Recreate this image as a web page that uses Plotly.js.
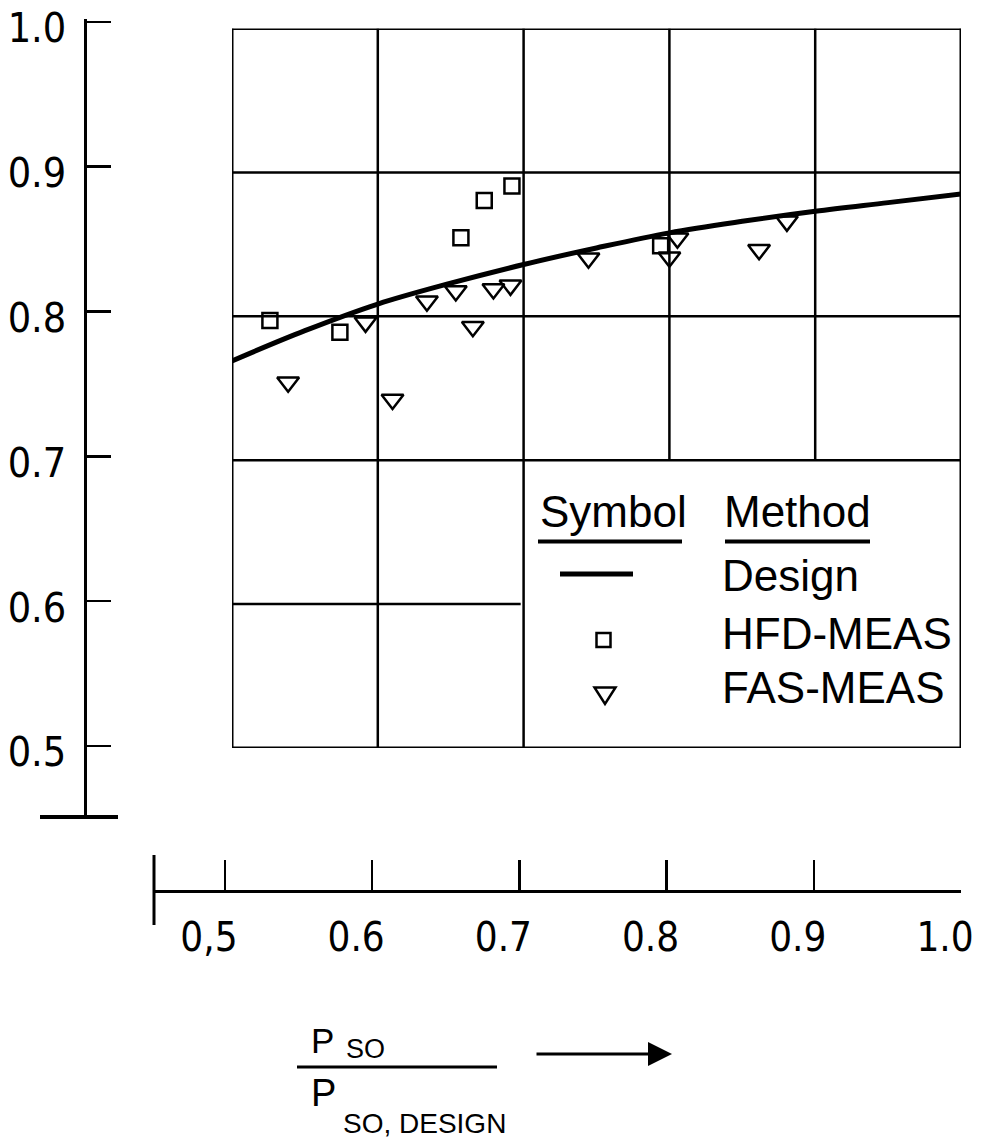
<!DOCTYPE html>
<html>
<head>
<meta charset="utf-8">
<script src="https://cdn.plot.ly/plotly-3.0.1.min.js"></script>
<style>html,body{margin:0;padding:0;background:#fff;}#chart{width:997px;height:1139px;}</style>
</head>
<body>
<div id="chart"></div>
<script>
// ---- data ----
var designX = [0.50, 0.55, 0.60, 0.65, 0.70, 0.75, 0.80, 0.85, 0.90, 0.95, 1.00];
var designY = [0.769, 0.790, 0.8085, 0.823, 0.836, 0.8475, 0.858, 0.866, 0.873, 0.879, 0.885];

var hfdX = [0.526, 0.574, 0.657, 0.673, 0.692, 0.794];
var hfdY = [0.797, 0.789, 0.8545, 0.8805, 0.8905, 0.849];

var fasX = [0.5385, 0.5916, 0.6101, 0.6337, 0.6535, 0.6652, 0.6793, 0.691, 0.7445, 0.800, 0.8055, 0.8615, 0.8806];
var fasY = [0.7542, 0.7958, 0.7422, 0.8105, 0.8176, 0.7928, 0.819, 0.8215, 0.8404, 0.841, 0.8542, 0.8462, 0.866];

var xTickVals = [0.5, 0.6, 0.7, 0.8, 0.9, 1.0];
var xTickText = ['0,5', '0.6', '0.7', '0.8', '0.9', '1.0'];
var yTickVals = [0.5, 0.6, 0.7, 0.8, 0.9, 1.0];
var yTickText = ['0.5', '0.6', '0.7', '0.8', '0.9', '1.0'];

var seriesNames = ['Design', 'HFD-MEAS', 'FAS-MEAS'];
var legendHeaders = ['Symbol', 'Method'];
var xTitleNum = ['P', 'SO'];
var xTitleDen = ['P', 'SO, DESIGN'];

// ---- layout helpers ----
var W = 997, H = 1139;
function fx(px) { return px / W; }
function fy(py) { return 1 - py / H; }

var TICKFONT = '"DejaVu Sans Condensed", "Liberation Sans", sans-serif';
var ISO = '"Liberation Sans", Arial, sans-serif';
var BLACK = '#000';

var traces = [
  { type: 'scatter', mode: 'lines', name: seriesNames[0], x: designX, y: designY,
    line: { color: BLACK, width: 5, shape: 'spline', smoothing: 1 }, hoverinfo: 'x+y', showlegend: false },
  { type: 'scatter', mode: 'markers', name: seriesNames[1], x: hfdX, y: hfdY,
    marker: { symbol: 'square-open', size: 15, color: BLACK, line: { width: 2.5, color: BLACK } }, showlegend: false },
  { type: 'scatter', mode: 'markers', name: seriesNames[2], x: fasX, y: fasY,
    marker: { symbol: 'triangle-down-open', size: 19, color: BLACK, line: { width: 2.5, color: BLACK } }, showlegend: false },
  // empty trace to host the separately drawn axes
  { type: 'scatter', mode: 'markers', x: [], y: [], xaxis: 'x2', yaxis: 'y2', showlegend: false, hoverinfo: 'skip' }
];

// grid shapes (data coordinates)
var shapes = [];
function dline(x0, y0, x1, y1, w) {
  shapes.push({ type: 'line', xref: 'x', yref: 'y', x0: x0, y0: y0, x1: x1, y1: y1, layer: 'below',
    line: { color: BLACK, width: w } });
}
xTickVals.forEach(function (v) {
  var w = (v === 0.5 || v === 1.0) ? 3 : 2.5;
  var bottom = (v === 0.8 || v === 0.9) ? 0.7 : 0.5;
  dline(v, bottom, v, 1.0, w);
});
yTickVals.forEach(function (v) {
  var w = (v === 0.5 || v === 1.0) ? 3 : 2.5;
  var right = (v === 0.6) ? 0.698 : 1.0;
  dline(0.5, v, right, v, w);
});

function pline(x0, y0, x1, y1, w) {
  shapes.push({ type: 'line', xref: 'paper', yref: 'paper', x0: fx(x0), y0: fy(y0), x1: fx(x1), y1: fy(y1),
    line: { color: BLACK, width: w } });
}
// foot of the left axis
pline(40, 817, 118, 817, 4);
// left end bar of the bottom axis
pline(154, 855, 154, 925, 3);
// legend underlines and key line
pline(538, 541.5, 682, 541.5, 4);
pline(725, 541.5, 870, 541.5, 4);
pline(560, 574, 633, 574, 5);
// legend key square
shapes.push({ type: 'rect', xref: 'paper', yref: 'paper', x0: fx(596.5), x1: fx(610.5), y0: fy(647), y1: fy(633),
  line: { color: BLACK, width: 2.5 } });
// legend key triangle
shapes.push({ type: 'path', xref: 'paper', yref: 'paper',
  path: 'M ' + fx(594.5) + ' ' + fy(687.5) + ' L ' + fx(615.5) + ' ' + fy(687.5) + ' L ' + fx(605) + ' ' + fy(704) + ' Z',
  line: { color: BLACK, width: 2.5 } });
// fraction bar
pline(297, 1067, 497, 1067, 3);

function ann(text, px, py, size, anchor, fam) {
  return { text: text, xref: 'paper', yref: 'paper', x: fx(px), y: fy(py), xanchor: anchor || 'left', yanchor: 'middle',
    showarrow: false, font: { family: fam || ISO, size: size, color: BLACK }, borderpad: 0 };
}
var annotations = [
  ann(legendHeaders[0], 539, 511.5, 44),
  ann(legendHeaders[1], 723, 511.5, 44),
  ann(seriesNames[0], 721, 575, 44),
  ann(seriesNames[1], 721, 634, 44),
  ann(seriesNames[2], 721, 687.5, 44),
  ann(xTitleNum[0], 310, 1040.5, 35),
  ann(xTitleNum[1], 345, 1049, 27),
  ann(xTitleDen[0], 310, 1092.5, 38),
  ann(xTitleDen[1], 342, 1123, 28),
  { text: '', xref: 'paper', yref: 'paper', x: fx(672), y: fy(1054), ax: -137, ay: 0, showarrow: true,
    arrowhead: 2, arrowsize: 1.6, arrowwidth: 3, arrowcolor: BLACK }
];

var layout = {
  width: W, height: H, autosize: false,
  margin: { l: 0, r: 0, t: 0, b: 0, pad: 0 },
  paper_bgcolor: '#fff', plot_bgcolor: 'rgba(0,0,0,0)',
  showlegend: false,
  xaxis: { domain: [fx(232), fx(961)], range: [0.5, 1.0], showgrid: false, zeroline: false, showline: false,
    showticklabels: false, ticks: '', fixedrange: true },
  yaxis: { domain: [fy(748), fy(28.5)], range: [0.5, 1.0], showgrid: false, zeroline: false, showline: false,
    showticklabels: false, ticks: '', fixedrange: true },
  // separately drawn bottom axis
  xaxis2: { domain: [fx(154), fx(961)], range: [0.4518, 1.0], anchor: 'free', position: fy(891), side: 'bottom',
    showgrid: false, zeroline: false, showline: true, linecolor: BLACK, linewidth: 3,
    ticks: 'inside', ticklen: 30, tickwidth: 2.5, tickcolor: BLACK,
    tickmode: 'array', tickvals: xTickVals, ticktext: xTickText,
    ticklabelstandoff: 10, ticklabelshift: -16, ticklabeloverflow: 'allow',
    tickfont: { family: TICKFONT, size: 40, color: BLACK }, fixedrange: true },
  // separately drawn left axis
  yaxis2: { domain: [fy(817), fy(19)], range: [0.451, 1.002], anchor: 'free', position: fx(84.5), side: 'left',
    showgrid: false, zeroline: false, showline: true, linecolor: BLACK, linewidth: 3,
    ticks: 'inside', ticklen: 24, tickwidth: 2.5, tickcolor: BLACK,
    tickmode: 'array', tickvals: yTickVals, ticktext: yTickText,
    ticklabelstandoff: 9, ticklabelshift: 6, ticklabeloverflow: 'allow',
    tickfont: { family: TICKFONT, size: 41, color: BLACK }, fixedrange: true },
  shapes: shapes,
  annotations: annotations
};

Plotly.newPlot('chart', traces, layout, { staticPlot: true, displayModeBar: false });
</script>
</body>
</html>
